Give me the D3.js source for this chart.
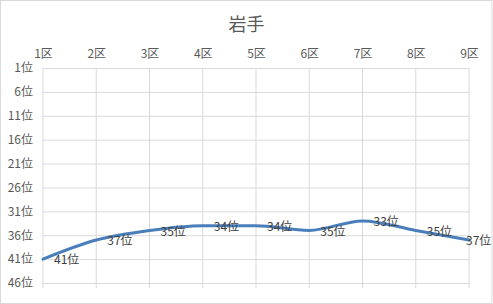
<!DOCTYPE html>
<html>
<head>
<meta charset="utf-8">
<script src="https://cdn.jsdelivr.net/npm/d3@7"></script>
<style>
  body { margin: 0; background: #fff; }
  text { font-family: "Noto Sans CJK JP", "Noto Sans", sans-serif; fill: #595959; }
</style>
</head>
<body>
<div id="chart"></div>
<script>
// chart data
var title = "岩手"
var districts = ["1区", "2区", "3区", "4区", "5区", "6区", "7区", "8区", "9区"]
var ranks = [41, 37, 35, 34, 34, 35, 33, 35, 37]
var rankTicks = [1, 6, 11, 16, 21, 26, 31, 36, 41, 46]

var W = 493, H = 304
var margin = {top: 68, right: 24, bottom: 21, left: 43}
var width = W - margin.left - margin.right,
    height = H - margin.top - margin.bottom

var svg = d3.select("#chart").append("svg")
    .attr("width", W)
    .attr("height", H)

// chart border
svg.append("rect")
    .attr("x", 0.5).attr("y", 0.5)
    .attr("width", W - 1.5).attr("height", H - 1)
    .attr("fill", "#fff")
    .attr("stroke", "#d9d9d9")

svg.append("text")
    .attr("x", W / 2)
    .attr("y", 31)
    .attr("text-anchor", "middle")
    .style("font-size", "18px")
    .text(title)

var g = svg.append("g")
    .attr("transform", "translate(" + margin.left + "," + margin.top + ")")

var x = d3.scalePoint()
    .domain(districts)
    .range([0, width])

// reversed rank axis: 1位 at top
var y = d3.scaleLinear()
    .domain([1, 46])
    .range([0, height])

// horizontal gridlines + rank labels
g.append("g")
    .call(d3.axisLeft(y).tickValues(rankTicks).tickSize(-width).tickFormat(d => d + "位"))
    .call(a => a.select(".domain").remove())
    .call(a => a.selectAll(".tick line").attr("stroke", "#d9d9d9"))
    .call(a => a.selectAll(".tick text").attr("x", -10).style("font-size", "12px").attr("fill", "#595959"))

// vertical gridlines (run a little below the plot as tick marks)
g.append("g")
    .selectAll("line")
    .data(districts)
    .enter()
    .append("line")
    .attr("x1", d => x(d)).attr("x2", d => x(d))
    .attr("y1", 0).attr("y2", height + 5)
    .attr("stroke", "#d9d9d9")

// category labels on top
g.append("g")
    .call(d3.axisTop(x).tickSize(0).tickPadding(10))
    .call(a => a.select(".domain").remove())
    .call(a => a.selectAll(".tick text").style("font-size", "12px").attr("fill", "#595959"))

var line = d3.line()
    .x((d, i) => x(districts[i]))
    .y(d => y(d))
    .curve(d3.curveMonotoneX)

g.append("path")
    .datum(ranks)
    .attr("d", line)
    .attr("fill", "none")
    .attr("stroke", "#4a7ebb")
    .attr("stroke-width", 3)
    .attr("stroke-linecap", "round")

// data labels, right of each point, kept inside the chart
g.append("g")
    .selectAll("text")
    .data(ranks)
    .enter()
    .append("text")
    .attr("x", (d, i) => Math.min(x(districts[i]) + 11, W - margin.left - 27))
    .attr("y", d => y(d) + 1)
    .attr("dy", "0.35em")
    .style("font-size", "12px")
    .style("fill", "#404040")
    .text(d => d + "位")
</script>
</body>
</html>
